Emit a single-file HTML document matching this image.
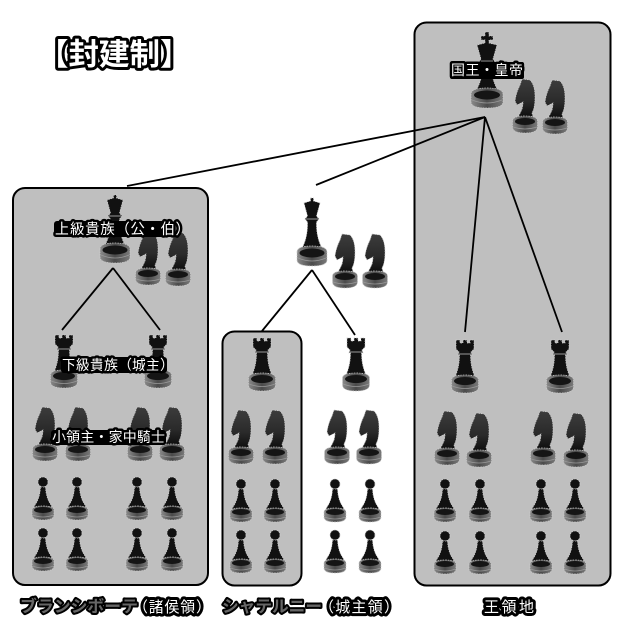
<!DOCTYPE html>
<html lang="ja">
<head>
<meta charset="utf-8">
<style>
html,body{margin:0;padding:0;background:#fff}
svg{display:block}
text{font-family:"Liberation Sans","Noto Sans CJK JP",sans-serif;fill:#fff;stroke:#000;paint-order:stroke;stroke-linejoin:round}
.l{font-size:14px;stroke-width:5px}
.k{font-size:16.500px;font-weight:bold;stroke-width:4px;fill:#666}
.b{font-size:15px;stroke-width:6px}
.t{font-size:30.500px;font-weight:bold;stroke-width:6px}
.p{stroke:#ccc;stroke-width:.7;stroke-dasharray:1.500 1}
</style>
</head>
<body>
<svg width="628" height="631" viewBox="0 0 628 631" xmlns="http://www.w3.org/2000/svg">
<defs>
<linearGradient id="g" x1="0" x2="1" y1="0" y2="0">
<stop offset="0" stop-color="#8a8a8a"/><stop offset=".5" stop-color="#4a4a4a"/><stop offset="1" stop-color="#7a7a7a"/>
</linearGradient>
<linearGradient id="h" x1="0" x2="0" y1="0" y2="1">
<stop offset="0" stop-color="#3c3c3c"/><stop offset=".55" stop-color="#2a2a2a"/><stop offset="1" stop-color="#080808"/>
</linearGradient>
<g id="king">
<path class="p" fill="#111" d="M-2,-76H2V-72H6V-68H2V-65L10,-63L6,-49L8,-46L4.500,-44Q4,-28 12,-16L14,-12H-14L-12,-16Q-4,-28 -4.500,-44L-8,-46L-6,-49L-10,-63L-2,-65V-68H-6V-72H-2Z"/>
<path d="M-6,-47H6" stroke="#888" stroke-width="1"/>
<path class="p" fill="url(#g)" d="M-16,-14V-6Q-16,0 0,0Q16,0 16,-6V-14Q16,-20 0,-20Q-16,-20 -16,-14Z"/>
<ellipse cx="0" cy="-13" rx="13" ry="4.500" fill="#151515"/>
<path d="M-15,-8Q0,-2 15,-8" fill="none" stroke="#999" stroke-width=".8"/>
</g>
<g id="queen">
<path class="p" fill="#111" d="M-1.500,-68H1.500V-65L8,-63L4.500,-50L7,-47L4.500,-44Q4,-28 11,-16L13,-12H-13L-11,-16Q-4,-28 -4.500,-44L-7,-47L-4.500,-50L-8,-63L-1.500,-65Z"/>
<path d="M-6,-47H6" stroke="#999" stroke-width="1"/>
<path class="p" fill="url(#g)" d="M-15,-14V-6Q-15,0 0,0Q15,0 15,-6V-14Q15,-20 0,-20Q-15,-20 -15,-14Z"/>
<ellipse cx="0" cy="-13" rx="12.500" ry="4.500" fill="#151515"/>
<path d="M-14,-8Q0,-2 14,-8" fill="none" stroke="#999" stroke-width=".8"/>
</g>
<g id="rook">
<path class="p" fill="#111" d="M-9,-53H-5V-50H-2V-53H2V-50H5V-53H9V-44L6,-41L7,-38H5.500Q5.500,-26 10,-16L12,-12H-12L-10,-16Q-5.500,-26 -5.500,-38H-7L-6,-41L-9,-44Z"/>
<path d="M-6.500,-39H6.500" stroke="#999" stroke-width="1"/>
<path class="p" fill="url(#g)" d="M-13.500,-13V-6Q-13.500,0 0,0Q13.500,0 13.500,-6V-13Q13.500,-18 0,-18Q-13.500,-18 -13.500,-13Z"/>
<ellipse cx="0" cy="-12" rx="11" ry="4" fill="#151515"/>
<path d="M-13,-7Q0,-2 13,-7" fill="none" stroke="#999" stroke-width=".8"/>
</g>
<g id="knight">
<path class="p" fill="url(#h)" d="M-3,-54L5,-53Q10,-48 10,-36Q10,-25 7,-20L9,-13H-9Q-5,-19 -3,-24Q-2,-28 -2,-31L-8,-28L-10,-32Q-9,-40 -5,-48Z"/>
<path class="p" fill="url(#g)" d="M-12.500,-12V-6Q-12.500,0 0,0Q12.500,0 12.500,-6V-12Q12.500,-17 0,-17Q-12.500,-17 -12.500,-12Z"/>
<ellipse cx="0" cy="-11.500" rx="10" ry="3.500" fill="#151515"/>
<path d="M-12,-6Q0,-2 12,-6" fill="none" stroke="#999" stroke-width=".8"/>
</g>
<g id="pawn">
<circle class="p" cx="0" cy="-38" r="5" fill="#111"/>
<path class="p" fill="#111" d="M-2.500,-33H2.500Q3,-22 8,-15L10,-11H-10L-8,-15Q-3,-22 -2.500,-33Z"/>
<path class="p" fill="url(#g)" d="M-11,-10V-5Q-11,0 0,0Q11,0 11,-5V-10Q11,-14 0,-14Q-11,-14 -11,-10Z"/>
<ellipse cx="0" cy="-10" rx="9" ry="3" fill="#151515"/>
<path d="M-10.500,-5Q0,-1 10.500,-5" fill="none" stroke="#999" stroke-width=".8"/>
</g>
</defs>

<rect x="13" y="188" width="195" height="397" rx="12" fill="#bfbfbf" stroke="#000" stroke-width="2"/>
<rect x="222.500" y="331.500" width="79" height="254" rx="12" fill="#bfbfbf" stroke="#000" stroke-width="2"/>
<rect x="414.500" y="22.500" width="196" height="563" rx="12" fill="#bfbfbf" stroke="#000" stroke-width="2"/>

<g stroke="#000" stroke-width="1.800" fill="none">
<path d="M485,117L127,186"/>
<path d="M485,117L316,185"/>
<path d="M485,117L465,332"/>
<path d="M485,117L562,332"/>
<path d="M312,270L262,331"/>
<path d="M312,270L355,335"/>
<path d="M113,268L62,330"/>
<path d="M113,268L160,330"/>
</g>

<use href="#king" x="487" y="108"/>
<use href="#knight" x="525" y="133"/>
<use href="#knight" x="555" y="134"/>

<use href="#queen" x="115" y="263"/>
<use href="#knight" x="148" y="285"/>
<use href="#knight" x="178" y="286"/>
<use href="#rook" x="64" y="388"/>
<use href="#rook" x="158" y="388"/>
<use href="#knight" x="45" y="461"/>
<use href="#knight" x="78" y="461"/>
<use href="#knight" x="140" y="461"/>
<use href="#knight" x="172" y="461"/>
<use href="#pawn" x="43" y="520"/>
<use href="#pawn" x="77" y="520"/>
<use href="#pawn" x="137" y="520"/>
<use href="#pawn" x="172" y="520"/>
<use href="#pawn" x="43" y="571"/>
<use href="#pawn" x="77" y="571"/>
<use href="#pawn" x="137" y="571"/>
<use href="#pawn" x="172" y="571"/>

<use href="#queen" x="312" y="266"/>
<use href="#knight" x="345" y="288"/>
<use href="#knight" x="375" y="288"/>
<use href="#rook" x="262" y="391"/>
<use href="#rook" x="356" y="391"/>
<use href="#knight" x="241" y="464"/>
<use href="#knight" x="275" y="464"/>
<use href="#knight" x="337" y="464"/>
<use href="#knight" x="369" y="464"/>
<use href="#pawn" x="241" y="522"/>
<use href="#pawn" x="275" y="522"/>
<use href="#pawn" x="335" y="522"/>
<use href="#pawn" x="370" y="522"/>
<use href="#pawn" x="241" y="573"/>
<use href="#pawn" x="275" y="573"/>
<use href="#pawn" x="335" y="573"/>
<use href="#pawn" x="370" y="573"/>

<use href="#rook" x="465" y="393"/>
<use href="#rook" x="560" y="393"/>
<use href="#knight" x="447" y="465"/>
<use href="#knight" x="479" y="467"/>
<use href="#knight" x="543" y="465"/>
<use href="#knight" x="576" y="467"/>
<use href="#pawn" x="445" y="522"/>
<use href="#pawn" x="480" y="522"/>
<use href="#pawn" x="541" y="522"/>
<use href="#pawn" x="575" y="522"/>
<use href="#pawn" x="445" y="574"/>
<use href="#pawn" x="480" y="574"/>
<use href="#pawn" x="541" y="574"/>
<use href="#pawn" x="575" y="574"/>

<g fill="#000">
<rect x="450" y="62" width="74" height="17" rx="2"/>
<rect x="54" y="221" width="121" height="16" rx="3"/>
<rect x="61" y="357" width="106" height="16" rx="3"/>
<rect x="51" y="430" width="115" height="15" rx="3"/>
</g>

<text class="t" x="38" y="65">【封建制】</text>
<text class="l" x="451" y="75" textLength="72">国王・皇帝</text>
<text class="l" x="55" y="234" style="font-size:14.500px" textLength="135">上級貴族（公・伯）</text>
<text class="l" x="62" y="370" textLength="112">下級貴族（城主）</text>
<text class="l" x="52" y="442" textLength="113">小領主・家中騎士</text>
<text class="k" x="20" y="612" textLength="118" lengthAdjust="spacingAndGlyphs">ブランシボーテ</text>
<text class="b" x="133" y="612" textLength="78">（諸侯領）</text>
<text class="k" x="222" y="612" textLength="100" lengthAdjust="spacingAndGlyphs">シャテルニー</text>
<text class="b" x="319" y="612" textLength="80">（城主領）</text>
<text class="b" x="484" y="612" textLength="50">王領地</text>
</svg>
</body>
</html>
